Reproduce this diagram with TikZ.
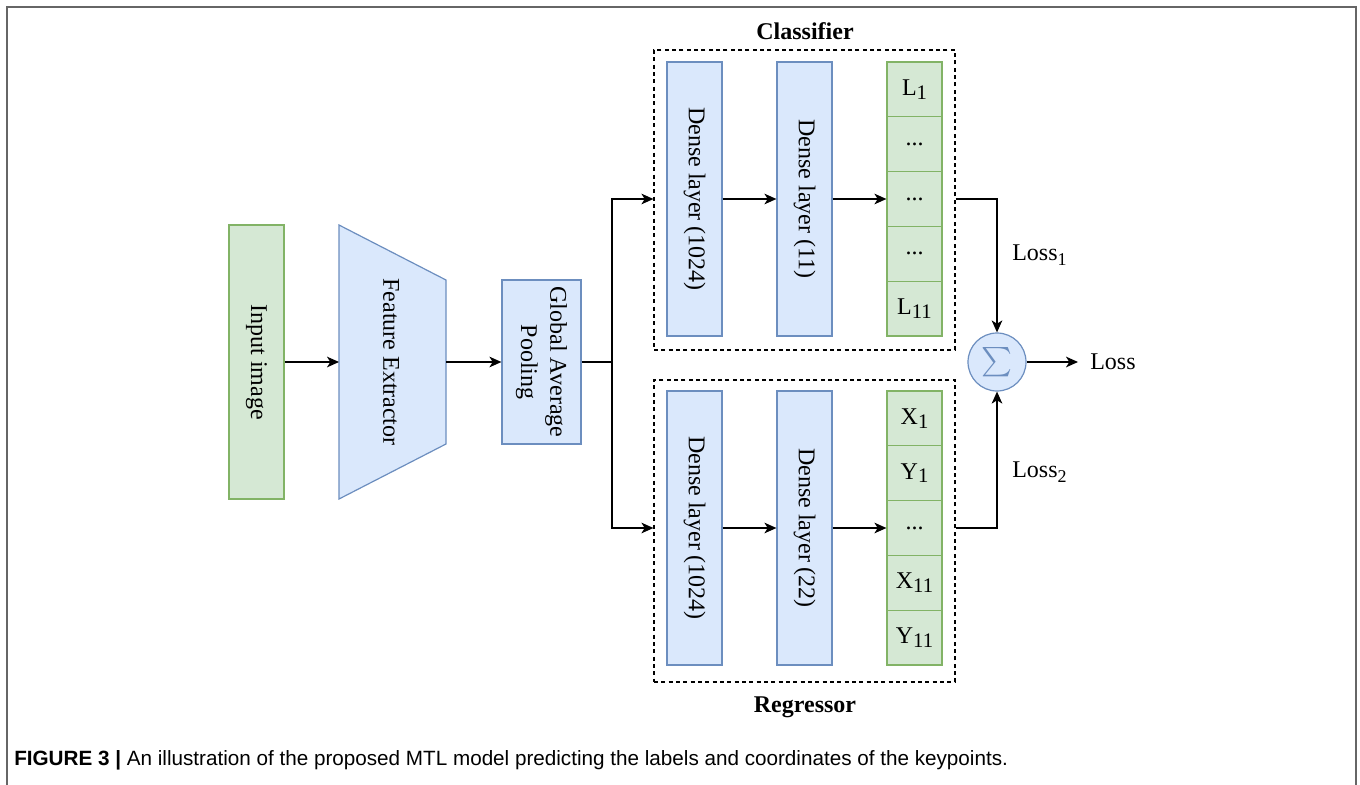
\documentclass[tikz,border=0pt]{standalone}
\usepackage{fontspec}
\setmainfont{Liberation Serif}
\newfontfamily\capfont{Liberation Sans}
\usetikzlibrary{arrows.meta,fit}
\definecolor{bfill}{HTML}{DAE8FC}
\definecolor{bdraw}{HTML}{6C8EBF}
\definecolor{gfill}{HTML}{D5E8D4}
\definecolor{gdraw}{HTML}{82B366}
\definecolor{framecol}{HTML}{666666}
\newcommand\cellsub[1]{\raisebox{-0.35ex}{\fontsize{15.5}{15.5}\selectfont #1}}
\newcommand\losssub[1]{\raisebox{-0.45ex}{\fontsize{13.5}{13.5}\selectfont #1}}
\begin{document}
\begin{tikzpicture}[x=0.75pt,y=-0.75pt,
  bluebox/.style={draw=bdraw,fill=bfill,line width=0.9pt,inner sep=0pt},
  greenbox/.style={draw=gdraw,fill=gfill,line width=0.9pt,inner sep=0pt},
  txt/.style={font=\fontsize{18}{20}\selectfont,inner sep=0pt},
  ttl/.style={font=\fontsize{18}{20}\selectfont\bfseries,inner sep=0pt},
  arr/.style={-{Stealth[length=9pt,width=8pt,inset=2.5pt]},line width=1pt},
  ln/.style={line width=1pt},
  dbox/.style={draw,dash pattern=on 3pt off 2.5pt,line width=0.9pt,inner sep=0pt}]
\useasboundingbox (0,0) rectangle (1360,785);
% frame
\draw[framecol,line width=1.5pt] (7,785) -- (7,7) -- (1356,7) -- (1356,785);
% input image
\node[greenbox,fit={(229,225)(284,499)}] (inp) {};
\node[txt,rotate=-90] (inpT) at (inp.center) {Input image};
% feature extractor
\draw[draw=bdraw,fill=bfill,line width=0.9pt] (339,225) -- (446,280) -- (446,444) -- (339,499) -- cycle;
\coordinate (feW) at (339,362);
\coordinate (feE) at (446,362);
\node[txt,rotate=-90] (feT) at (391,362) {Feature Extractor};
% GAP
\node[bluebox,fit={(502,280)(581,444)}] (gap) {};
\node[txt,rotate=-90,align=center] (gapT) at (gap.center) {Global Average\\[2pt]Pooling};
\draw[arr] (inp.east) -- (feW);
\draw[arr] (feE) -- (gap.west);
% classifier
\node[dbox,fit={(654,50)(955,350)}] (cls) {};
\node[ttl] (clsT) at (805,31) {Classifier};
\node[bluebox,fit={(667,62)(722,336)}] (c1) {};
\node[txt,rotate=-90] (c1T) at (c1.center) {Dense layer (1024)};
\node[bluebox,fit={(777,62)(832,336)}] (c2) {};
\node[txt,rotate=-90] (c2T) at (c2.center) {Dense layer (11)};
\node[greenbox,fit={(887,62)(942,116.8)}] (ca) {};
\node[greenbox,fit={(887,116.8)(942,171.6)}] (cb) {};
\node[greenbox,fit={(887,171.6)(942,226.4)}] (cc) {};
\node[greenbox,fit={(887,226.4)(942,281.2)}] (cd) {};
\node[greenbox,fit={(887,281.2)(942,336)}] (ce) {};
\node[txt] (caT) at (ca.center) {L\cellsub{1}};
\node[txt] (cbT) at (cb.center) {...};
\node[txt] (ccT) at (cc.center) {...};
\node[txt] (cdT) at (cd.center) {...};
\node[txt] (ceT) at (ce.center) {L\cellsub{11}};
\draw[arr] (c1.east) -- (c2.west);
\draw[arr] (c2.east) -- (cc.west);
% regressor
\node[dbox,fit={(654,380)(955,682)}] (reg) {};
\node[ttl] (regT) at (805,707) {Regressor};
\node[bluebox,fit={(667,391)(722,665)}] (r1) {};
\node[txt,rotate=-90] (r1T) at (r1.center) {Dense layer (1024)};
\node[bluebox,fit={(777,391)(832,665)}] (r2) {};
\node[txt,rotate=-90] (r2T) at (r2.center) {Dense layer (22)};
\node[greenbox,fit={(887,391)(942,445.8)}] (ra) {};
\node[greenbox,fit={(887,445.8)(942,500.6)}] (rb) {};
\node[greenbox,fit={(887,500.6)(942,555.4)}] (rc) {};
\node[greenbox,fit={(887,555.4)(942,610.2)}] (rd) {};
\node[greenbox,fit={(887,610.2)(942,665)}] (re) {};
\node[txt] (raT) at (ra.center) {X\cellsub{1}};
\node[txt] (rbT) at (rb.center) {Y\cellsub{1}};
\node[txt] (rcT) at (rc.center) {...};
\node[txt] (rdT) at (rd.center) {X\cellsub{11}};
\node[txt] (reT) at (re.center) {Y\cellsub{11}};
\draw[arr] (r1.east) -- (r2.west);
\draw[arr] (r2.east) -- (rc.west);
% split
\coordinate (j) at (612,362);
\draw[ln] (gap.east) -- (j);
\draw[arr] (j) |- (cls.west |- c1.center);
\draw[arr] (j) |- (reg.west |- r1.center);
% sum
\node[circle,draw=bdraw,fill=bfill,line width=0.9pt,minimum size=43.5pt,inner sep=0pt,text=bdraw] (sig) at (997,362) {\scalebox{2.2}{$\sum$}};
\draw[arr] (cls.east |- c1.center) -| (sig.north);
\draw[arr] (reg.east |- r1.center) -| (sig.south);
\node[txt,anchor=west] (l1) at (1012,255) {Loss\losssub{1}};
\node[txt,anchor=west] (l2) at (1012,472) {Loss\losssub{2}};
\node[txt,anchor=west] (lossT) at (1090,362) {Loss};
\draw[arr] (sig.east) -- ([xshift=-9pt]lossT.west);
% caption
\node[anchor=west,inner sep=0pt,font=\capfont\fontsize{15.5}{17}\selectfont] (cap) at (14,760) {\textbf{FIGURE 3 |} An illustration of the proposed MTL model predicting the labels and coordinates of the keypoints.};
\end{tikzpicture}
\end{document}
